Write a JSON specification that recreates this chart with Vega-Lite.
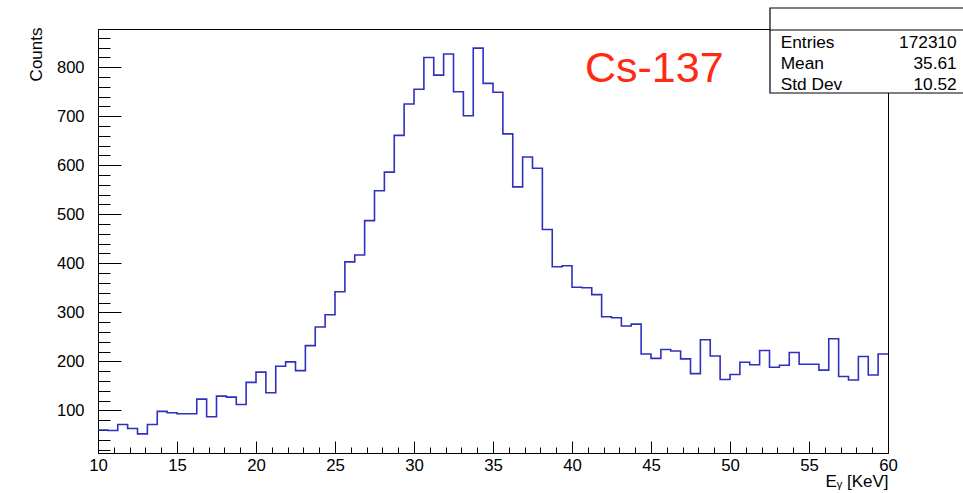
{
  "$schema": "https://vega.github.io/schema/vega-lite/v6.json",
  "width": 790,
  "height": 424,
  "autosize": {"type": "none"},
  "padding": {"left": 98, "top": 29, "right": 75, "bottom": 40},
  "background": "white",
  "config": {
    "font": "Liberation Sans",
    "view": {"stroke": "black", "strokeWidth": 1}
  },
  "data": {
    "values": [
      {"lo": 10, "hi": 10.625, "c": 60},
      {"lo": 10.625, "hi": 11.25, "c": 59},
      {"lo": 11.25, "hi": 11.875, "c": 71},
      {"lo": 11.875, "hi": 12.5, "c": 63},
      {"lo": 12.5, "hi": 13.125, "c": 52},
      {"lo": 13.125, "hi": 13.75, "c": 71},
      {"lo": 13.75, "hi": 14.375, "c": 98},
      {"lo": 14.375, "hi": 15, "c": 95},
      {"lo": 15, "hi": 15.625, "c": 93},
      {"lo": 15.625, "hi": 16.25, "c": 93},
      {"lo": 16.25, "hi": 16.875, "c": 123},
      {"lo": 16.875, "hi": 17.5, "c": 87},
      {"lo": 17.5, "hi": 18.125, "c": 129},
      {"lo": 18.125, "hi": 18.75, "c": 127},
      {"lo": 18.75, "hi": 19.375, "c": 112},
      {"lo": 19.375, "hi": 20, "c": 157},
      {"lo": 20, "hi": 20.625, "c": 178},
      {"lo": 20.625, "hi": 21.25, "c": 136},
      {"lo": 21.25, "hi": 21.875, "c": 190},
      {"lo": 21.875, "hi": 22.5, "c": 199},
      {"lo": 22.5, "hi": 23.125, "c": 181},
      {"lo": 23.125, "hi": 23.75, "c": 232},
      {"lo": 23.75, "hi": 24.375, "c": 270},
      {"lo": 24.375, "hi": 25, "c": 295},
      {"lo": 25, "hi": 25.625, "c": 342},
      {"lo": 25.625, "hi": 26.25, "c": 403},
      {"lo": 26.25, "hi": 26.875, "c": 417},
      {"lo": 26.875, "hi": 27.5, "c": 487},
      {"lo": 27.5, "hi": 28.125, "c": 548},
      {"lo": 28.125, "hi": 28.75, "c": 586},
      {"lo": 28.75, "hi": 29.375, "c": 661},
      {"lo": 29.375, "hi": 30, "c": 725},
      {"lo": 30, "hi": 30.625, "c": 755},
      {"lo": 30.625, "hi": 31.25, "c": 820},
      {"lo": 31.25, "hi": 31.875, "c": 784},
      {"lo": 31.875, "hi": 32.5, "c": 827},
      {"lo": 32.5, "hi": 33.125, "c": 750},
      {"lo": 33.125, "hi": 33.75, "c": 701},
      {"lo": 33.75, "hi": 34.375, "c": 839},
      {"lo": 34.375, "hi": 35, "c": 767},
      {"lo": 35, "hi": 35.625, "c": 749},
      {"lo": 35.625, "hi": 36.25, "c": 664},
      {"lo": 36.25, "hi": 36.875, "c": 556},
      {"lo": 36.875, "hi": 37.5, "c": 617},
      {"lo": 37.5, "hi": 38.125, "c": 594},
      {"lo": 38.125, "hi": 38.75, "c": 469},
      {"lo": 38.75, "hi": 39.375, "c": 393},
      {"lo": 39.375, "hi": 40, "c": 395},
      {"lo": 40, "hi": 40.625, "c": 351},
      {"lo": 40.625, "hi": 41.25, "c": 350},
      {"lo": 41.25, "hi": 41.875, "c": 336},
      {"lo": 41.875, "hi": 42.5, "c": 291},
      {"lo": 42.5, "hi": 43.125, "c": 289},
      {"lo": 43.125, "hi": 43.75, "c": 272},
      {"lo": 43.75, "hi": 44.375, "c": 276},
      {"lo": 44.375, "hi": 45, "c": 215},
      {"lo": 45, "hi": 45.625, "c": 206},
      {"lo": 45.625, "hi": 46.25, "c": 224},
      {"lo": 46.25, "hi": 46.875, "c": 221},
      {"lo": 46.875, "hi": 47.5, "c": 205},
      {"lo": 47.5, "hi": 48.125, "c": 175},
      {"lo": 48.125, "hi": 48.75, "c": 244},
      {"lo": 48.75, "hi": 49.375, "c": 211},
      {"lo": 49.375, "hi": 50, "c": 163},
      {"lo": 50, "hi": 50.625, "c": 173},
      {"lo": 50.625, "hi": 51.25, "c": 198},
      {"lo": 51.25, "hi": 51.875, "c": 193},
      {"lo": 51.875, "hi": 52.5, "c": 222},
      {"lo": 52.5, "hi": 53.125, "c": 188},
      {"lo": 53.125, "hi": 53.75, "c": 192},
      {"lo": 53.75, "hi": 54.375, "c": 218},
      {"lo": 54.375, "hi": 55, "c": 194},
      {"lo": 55, "hi": 55.625, "c": 194},
      {"lo": 55.625, "hi": 56.25, "c": 182},
      {"lo": 56.25, "hi": 56.875, "c": 246},
      {"lo": 56.875, "hi": 57.5, "c": 169},
      {"lo": 57.5, "hi": 58.125, "c": 162},
      {"lo": 58.125, "hi": 58.75, "c": 210},
      {"lo": 58.75, "hi": 59.375, "c": 172},
      {"lo": 59.375, "hi": 60, "c": 215}
    ]
  },
  "transform": [{"fold": ["lo", "hi"], "as": ["edge", "x"]}],
  "resolve": {"axis": {"x": "independent", "y": "independent"}},
  "layer": [
    {
      "mark": {"type": "line", "color": "#3030c0", "strokeWidth": 1.6},
      "encoding": {
        "x": {
          "field": "x", "type": "quantitative",
          "scale": {"domain": [10, 60], "nice": false, "zero": false},
          "axis": {
            "orient": "bottom",
            "values": [10, 15, 20, 25, 30, 35, 40, 45, 50, 55, 60],
            "tickSize": -12, "tickColor": "black", "tickWidth": 1,
            "domainColor": "black", "domainWidth": 1,
            "grid": false,
            "labelFontSize": 16.8, "labelColor": "black", "labelPadding": 16,
            "labelFlush": false, "labelOverlap": false,
            "title": "Eᵧ [KeV]", "titleFontSize": 17, "titleFontWeight": "normal",
            "titleColor": "black", "titleAnchor": "end", "titleAlign": "right",
            "titleBaseline": "middle", "titleX": 790, "titleY": 28
          }
        },
        "y": {
          "field": "c", "type": "quantitative",
          "scale": {"domain": [13, 878], "nice": false, "zero": false},
          "axis": {
            "orient": "left",
            "values": [100, 200, 300, 400, 500, 600, 700, 800],
            "tickSize": -23, "tickColor": "black", "tickWidth": 1,
            "domainColor": "black", "domainWidth": 1,
            "grid": false,
            "labelFontSize": 16.5, "labelColor": "black", "labelPadding": 37,
            "labelOverlap": false,
            "title": "Counts", "titleFontSize": 17, "titleFontWeight": "normal",
            "titleColor": "black", "titleAngle": 270, "titleAlign": "right",
            "titleBaseline": "middle", "titleX": -62, "titleY": -2
          }
        },
        "order": [{"field": "x", "type": "quantitative"}, {"field": "edge", "type": "ordinal"}]
      }
    },
    {
      "mark": {"type": "point", "opacity": 0},
      "encoding": {
        "x": {
          "field": "x", "type": "quantitative",
          "axis": {
            "orient": "bottom",
            "values": [11, 12, 13, 14, 16, 17, 18, 19, 21, 22, 23, 24, 26, 27, 28, 29, 31, 32, 33, 34, 36, 37, 38, 39, 41, 42, 43, 44, 46, 47, 48, 49, 51, 52, 53, 54, 56, 57, 58, 59],
            "tickSize": -6, "tickColor": "black", "tickWidth": 1,
            "domain": false, "labels": false, "grid": false, "title": null
          }
        },
        "y": {
          "field": "c", "type": "quantitative",
          "axis": {
            "orient": "left",
            "values": [20, 40, 60, 80, 120, 140, 160, 180, 220, 240, 260, 280, 320, 340, 360, 380, 420, 440, 460, 480, 520, 540, 560, 580, 620, 640, 660, 680, 720, 740, 760, 780, 820, 840, 860],
            "tickSize": -12, "tickColor": "black", "tickWidth": 1,
            "domain": false, "labels": false, "grid": false, "title": null
          }
        }
      }
    },
    {
      "data": {"values": [{}]},
      "mark": {"type": "rect", "fill": "white", "stroke": "black", "strokeWidth": 1.2},
      "encoding": {
        "x": {"datum": 52.53, "type": "quantitative", "axis": null},
        "x2": {"datum": 68},
        "y": {"datum": 920.8, "type": "quantitative", "axis": null},
        "y2": {"datum": 747.4}
      }
    },
    {
      "data": {"values": [{}]},
      "mark": {"type": "rule", "stroke": "black", "strokeWidth": 1.2},
      "encoding": {
        "x": {"datum": 52.53, "type": "quantitative", "axis": null},
        "x2": {"datum": 68},
        "y": {"datum": 876, "type": "quantitative", "axis": null}
      }
    },
    {
      "data": {"values": [{}]},
      "mark": {"type": "text", "text": ["Entries", "Mean", "Std Dev"], "lineHeight": 21, "fontSize": 17.3, "align": "left", "baseline": "alphabetic", "color": "black"},
      "encoding": {
        "x": {"datum": 53.21, "type": "quantitative", "axis": null},
        "y": {"datum": 838.6, "type": "quantitative", "axis": null}
      }
    },
    {
      "data": {"values": [{}]},
      "mark": {"type": "text", "text": ["172310", "35.61", "10.52"], "lineHeight": 21, "fontSize": 17.3, "align": "right", "baseline": "alphabetic", "color": "black"},
      "encoding": {
        "x": {"datum": 64.35, "type": "quantitative", "axis": null},
        "y": {"datum": 838.6, "type": "quantitative", "axis": null}
      }
    },
    {
      "data": {"values": [{}]},
      "mark": {"type": "text", "text": "Cs-137", "fontSize": 43, "align": "left", "baseline": "alphabetic", "color": "#ff2a14"},
      "encoding": {
        "x": {"datum": 40.82, "type": "quantitative", "axis": null},
        "y": {"datum": 769.9, "type": "quantitative", "axis": null}
      }
    }
  ]
}
